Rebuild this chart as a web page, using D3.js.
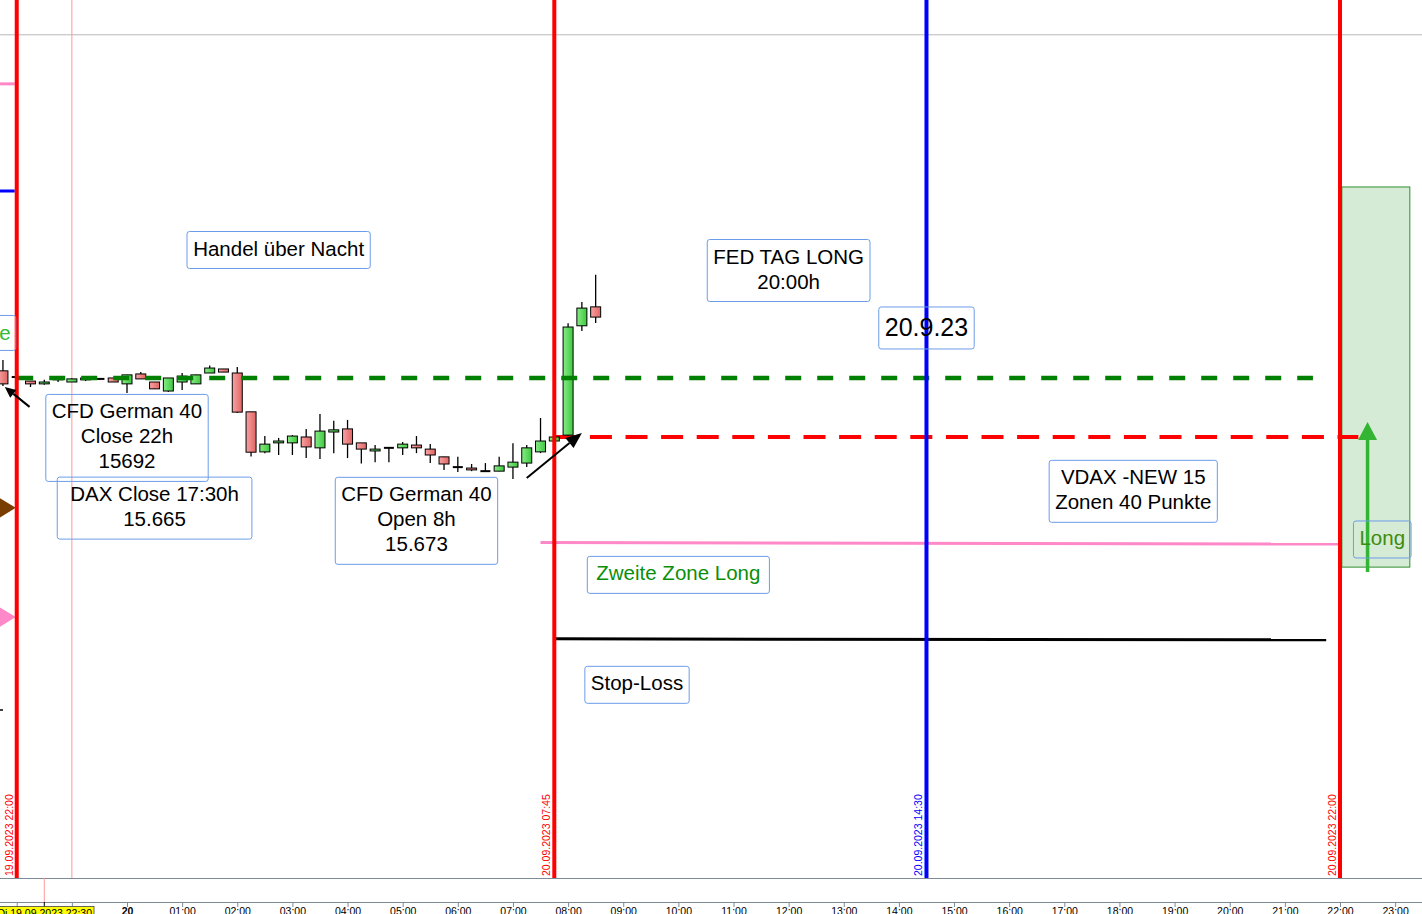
<!DOCTYPE html>
<html>
<head>
<meta charset="utf-8">
<script src="https://cdn.jsdelivr.net/npm/d3@7"></script>
<style>
  body { margin: 0; background: #fff; }
  svg { display: block; font-family: "Liberation Sans", Arial, sans-serif; }
</style>
</head>
<body>
<svg id="chart" width="1422" height="914"></svg>
<script>
// 15-minute candles, CFD German 40
var candleTimes = [
  "2023-09-19 21:45", "2023-09-19 22:00", "2023-09-19 22:15", "2023-09-19 22:30",
  "2023-09-19 22:45", "2023-09-19 23:00", "2023-09-19 23:15", "2023-09-19 23:30",
  "2023-09-19 23:45", "2023-09-20 00:00", "2023-09-20 00:15", "2023-09-20 00:30",
  "2023-09-20 00:45", "2023-09-20 01:00", "2023-09-20 01:15", "2023-09-20 01:30",
  "2023-09-20 01:45", "2023-09-20 02:00", "2023-09-20 02:15", "2023-09-20 02:30",
  "2023-09-20 02:45", "2023-09-20 03:00", "2023-09-20 03:15", "2023-09-20 03:30",
  "2023-09-20 03:45", "2023-09-20 04:00", "2023-09-20 04:15", "2023-09-20 04:30",
  "2023-09-20 04:45", "2023-09-20 05:00", "2023-09-20 05:15", "2023-09-20 05:30",
  "2023-09-20 05:45", "2023-09-20 06:00", "2023-09-20 06:15", "2023-09-20 06:30",
  "2023-09-20 06:45", "2023-09-20 07:00", "2023-09-20 07:15", "2023-09-20 07:30",
  "2023-09-20 07:45", "2023-09-20 08:00", "2023-09-20 08:15", "2023-09-20 08:30"
];
var opens = [15694.3, 15692.3, 15691.0, 15690.1, 15691.4, 15690.7, 15691.4, 15691.7, 15692.0, 15690.1, 15693.3, 15690.7,
  15687.8, 15690.7, 15690.1, 15693.6, 15694.9, 15693.6, 15681.1, 15668.2, 15671.1, 15671.1, 15673.0, 15669.5,
  15674.6, 15675.6, 15671.1, 15668.5, 15669.5, 15669.5, 15670.4, 15669.1, 15666.6, 15663.3, 15663.0, 15662.0,
  15662.0, 15663.3, 15664.6, 15668.2, 15671.7, 15673.6, 15708.8, 15714.9];
var highs = [15697.8, 15692.6, 15691.0, 15691.4, 15692.3, 15691.9, 15692.3, 15692.0, 15692.0, 15693.0, 15693.9, 15690.7,
  15692.0, 15693.6, 15693.0, 15696.0, 15694.9, 15695.5, 15681.1, 15673.3, 15672.7, 15673.6, 15675.6, 15680.4,
  15678.2, 15678.5, 15671.1, 15670.4, 15669.5, 15671.4, 15673.3, 15670.7, 15666.6, 15666.6, 15664.3, 15664.6,
  15666.6, 15671.0, 15670.4, 15679.1, 15673.3, 15709.6, 15716.5, 15725.2];
var lows = [15689.4, 15691.7, 15689.1, 15689.8, 15690.7, 15690.7, 15691.0, 15691.4, 15690.7, 15687.2, 15691.7, 15688.5,
  15687.5, 15688.1, 15690.1, 15693.6, 15693.9, 15680.7, 15666.7, 15667.8, 15667.2, 15667.2, 15666.2, 15665.9,
  15667.8, 15666.2, 15664.5, 15664.9, 15664.9, 15667.2, 15667.8, 15664.6, 15662.4, 15661.7, 15662.0, 15662.0,
  15662.0, 15659.5, 15663.3, 15667.8, 15671.4, 15673.3, 15707.1, 15709.7];
var closes = [15690.1, 15692.3, 15690.1, 15690.7, 15691.9, 15691.7, 15692.0, 15691.7, 15690.7, 15693.0, 15691.7, 15688.5,
  15692.0, 15692.6, 15693.0, 15695.2, 15693.9, 15681.0, 15668.1, 15670.7, 15671.7, 15673.3, 15669.8, 15674.9,
  15675.3, 15670.7, 15669.1, 15669.1, 15669.5, 15670.7, 15669.5, 15667.2, 15664.3, 15663.3, 15662.4, 15662.0,
  15663.7, 15664.9, 15669.5, 15671.7, 15673.0, 15708.4, 15714.5, 15711.6];

// horizontal levels
var closeLevel = 15692;   // CFD close 22h
var openLevel = 15673;    // CFD open 8h
var zoneLevel = 15639;    // second long zone
var stopLevel = 15608;    // stop loss
var gridLevel = 15802.5;
var leftPink = 15786.7, leftBlue = 15752.2, leftBrown = 15650.2, leftPinkTri = 15615.0, leftDash = 15585.1;
var longBox = [15753.5, 15631.1];
var longArrow = [15629.5, 15677.8];

// vertical time lines
var vlineTimes = ["2023-09-19 22:00", "2023-09-20 07:45", "2023-09-20 14:30", "2023-09-20 22:00"];
var vlineKinds = ["red", "red", "blue", "red"];

var notes = [
  {t: "2023-09-20 02:45", p: 15733.2, lines: ["Handel über Nacht"]},
  {t: "2023-09-20 12:00", p: 15726.6, lines: ["FED TAG LONG", "20:00h"]},
  {t: "2023-09-20 14:30", p: 15708.1, lines: ["20.9.23"], kind: "big"},
  {t: "2023-09-20 00:00", p: 15672.7, lines: ["CFD German 40", "Close 22h", "15692"]},
  {t: "2023-09-20 00:30", p: 15650.1, lines: ["DAX Close 17:30h", "15.665"], kind: "wide"},
  {t: "2023-09-20 05:15", p: 15646.0, lines: ["CFD German 40", "Open 8h", "15.673"]},
  {t: "2023-09-20 18:15", p: 15655.5, lines: ["VDAX -NEW 15", "Zonen 40 Punkte"]},
  {t: "2023-09-20 10:00", p: 15628.6, lines: ["Zweite Zone Long"], kind: "zone"},
  {t: "2023-09-20 09:15", p: 15593.2, lines: ["Stop-Loss"]},
  {t: "2023-09-20 22:46", p: 15640.0, lines: ["Long"], kind: "long"}
];

var parse = d3.timeParse("%Y-%m-%d %H:%M");
var svg = d3.select("#chart");
var W = 1422, plotH = 878;

var x = d3.scaleTime()
  .domain([parse("2023-09-20 00:00"), parse("2023-09-20 22:00")])
  .range([127, 1340]);
var y = d3.scaleLinear().domain([15531, 15813.7]).range([plotH, 0]);

var defs = svg.append("defs");
function grad(id, c1, c2) {
  var g = defs.append("linearGradient").attr("id", id);
  g.append("stop").attr("offset", "0%").attr("stop-color", c1);
  g.append("stop").attr("offset", "100%").attr("stop-color", c2);
}
grad("gUp", "#86ec86", "#3fc83f");
grad("gDn", "#f7a3a3", "#e36464");

var plot = svg.append("g");

// grid line at top
plot.append("line")
  .attr("x1", 0).attr("x2", W)
  .attr("y1", y(gridLevel)).attr("y2", y(gridLevel))
  .attr("stroke", "#b8b8b8").attr("stroke-width", 1);

// thin pink separator
plot.append("line")
  .attr("x1", x(parse("2023-09-19 23:00"))).attr("x2", x(parse("2023-09-19 23:00")))
  .attr("y1", 0).attr("y2", plotH)
  .attr("stroke", "#ff9a9a").attr("stroke-width", 1);

// long zone box
var t2202 = parse("2023-09-20 22:02"), t2316 = parse("2023-09-20 23:16");
plot.append("rect")
  .attr("x", x(t2202)).attr("y", y(longBox[0]))
  .attr("width", x(t2316) - x(t2202)).attr("height", y(longBox[1]) - y(longBox[0]))
  .attr("fill", "#d5ebd5").attr("stroke", "#2f8f2f").attr("stroke-width", 1);

// left edge bits
var t22 = parse("2023-09-19 22:00");
plot.append("line").attr("x1", 0).attr("x2", x(t22) - 2)
  .attr("y1", y(leftPink)).attr("y2", y(leftPink))
  .attr("stroke", "#ff88c8").attr("stroke-width", 3);
plot.append("line").attr("x1", 0).attr("x2", x(t22) - 2)
  .attr("y1", y(leftBlue)).attr("y2", y(leftBlue))
  .attr("stroke", "#0000ff").attr("stroke-width", 3);
function tri(p, color) {
  var tx = x(t22) - 1, ty = y(p);
  plot.append("path")
    .attr("d", "M" + tx + "," + ty + "L" + (tx - 18) + "," + (ty - 11) + "L" + (tx - 18) + "," + (ty + 11) + "Z")
    .attr("fill", color);
}
tri(leftBrown, "#7a3d00");
tri(leftPinkTri, "#ff88c8");
plot.append("line").attr("x1", 0).attr("x2", 3)
  .attr("y1", y(leftDash)).attr("y2", y(leftDash))
  .attr("stroke", "#000").attr("stroke-width", 1.5);

// horizontal levels
plot.append("line")
  .attr("x1", x(parse("2023-09-20 07:30"))).attr("x2", x(parse("2023-09-20 22:00")))
  .attr("y1", y(zoneLevel)).attr("y2", y(zoneLevel) + 1.5)
  .attr("stroke", "#ff88c8").attr("stroke-width", 3);
plot.append("line")
  .attr("x1", x(parse("2023-09-20 07:45"))).attr("x2", x(parse("2023-09-20 21:45")))
  .attr("y1", y(stopLevel)).attr("y2", y(stopLevel) + 1)
  .attr("stroke", "#000").attr("stroke-width", 3);
plot.append("line")
  .attr("x1", x(parse("2023-09-20 07:45"))).attr("x2", x(parse("2023-09-20 22:20")))
  .attr("y1", y(openLevel)).attr("y2", y(openLevel))
  .attr("stroke", "#ff0000").attr("stroke-width", 4).attr("stroke-dasharray", "22,13.6");

// candles
var candles = candleTimes.map(function(t, i) {
  return {t: parse(t), o: opens[i], h: highs[i], l: lows[i], c: closes[i]};
});
var cg = plot.append("g").selectAll("g").data(candles).enter().append("g");
cg.append("line")
  .attr("x1", d => x(d.t)).attr("x2", d => x(d.t))
  .attr("y1", d => y(d.h)).attr("y2", d => y(d.l))
  .attr("stroke", "#000").attr("stroke-width", 1.3);
cg.filter(d => Math.abs(d.o - d.c) >= 0.2).append("rect")
  .attr("x", d => x(d.t) - 5).attr("width", 10)
  .attr("y", d => y(Math.max(d.o, d.c)))
  .attr("height", d => Math.max(1, Math.abs(y(d.o) - y(d.c))))
  .attr("fill", d => d.c > d.o ? "url(#gUp)" : "url(#gDn)")
  .attr("stroke", "#000").attr("stroke-width", 1);
cg.filter(d => Math.abs(d.o - d.c) < 0.2).append("line")
  .attr("x1", d => x(d.t) - 5).attr("x2", d => x(d.t) + 5)
  .attr("y1", d => y(d.o)).attr("y2", d => y(d.o))
  .attr("stroke", "#000").attr("stroke-width", 2);

// green dashed close level (drawn over candles)
plot.append("line")
  .attr("x1", x(t22) + 0.5).attr("x2", x(parse("2023-09-20 21:30")) + 0.5)
  .attr("y1", y(closeLevel)).attr("y2", y(closeLevel))
  .attr("stroke", "#008000").attr("stroke-width", 4.5).attr("stroke-dasharray", "16,16");

// vertical lines + rotated labels
var fmtV = d3.timeFormat("%d.%m.%Y %H:%M");
vlineTimes.forEach(function(t, i) {
  var xt = x(parse(t));
  var col = vlineKinds[i] === "blue" ? "#0000ff" : "#ff0000";
  plot.append("line").attr("x1", xt).attr("x2", xt).attr("y1", 0).attr("y2", plotH)
    .attr("stroke", col).attr("stroke-width", 4);
  plot.append("text")
    .attr("transform", "translate(" + (xt - 4) + "," + (plotH - 2) + ") rotate(-90)")
    .attr("font-size", 10.5).attr("fill", col)
    .text(fmtV(parse(t)));
});

// arrows
function arrow(t1, p1, t2, p2, color, width, hl, hw) {
  var x1 = x(parse(t1)), y1 = y(p1), x2 = x(parse(t2)), y2 = y(p2);
  var a = Math.atan2(y2 - y1, x2 - x1);
  var bx = x2 - hl * Math.cos(a), by = y2 - hl * Math.sin(a);
  plot.append("line").attr("x1", x1).attr("y1", y1).attr("x2", bx).attr("y2", by)
    .attr("stroke", color).attr("stroke-width", width);
  var px = -Math.sin(a) * hw / 2, py = Math.cos(a) * hw / 2;
  plot.append("path")
    .attr("d", "M" + x2 + "," + y2 + "L" + (bx + px) + "," + (by + py) + "L" + (bx - px) + "," + (by - py) + "Z")
    .attr("fill", color);
}
arrow("2023-09-19 22:14", 15682.7, "2023-09-19 21:47", 15689.1, "#000", 2, 11, 10);
arrow("2023-09-20 07:15", 15659.8, "2023-09-20 08:15", 15674.3, "#000", 2, 16, 13);
arrow("2023-09-20 22:30", longArrow[0], "2023-09-20 22:30", longArrow[1], "#33b533", 3.5, 18, 19);

// text boxes
function noteBox(n) {
  var big = n.kind === "big";
  var fs = big ? 25 : 20.5, lh = big ? 30 : 25, off = big ? 8.5 : 5.5;
  var color = n.kind === "zone" ? "#0a8f0a" : n.kind === "long" ? "#3d8c0e" : "#000";
  var cx = x(parse(n.t)), cy = y(n.p);
  var g = plot.append("g");
  var rect = g.append("rect");
  var txt = g.append("text").attr("font-size", fs).attr("fill", color).attr("text-anchor", "middle");
  var k = n.lines.length;
  n.lines.forEach(function(s, i) {
    txt.append("tspan").attr("x", cx).attr("y", cy + (i - (k - 1) / 2) * lh + off).text(s);
  });
  var pad = n.kind === "wide" ? 26 : (n.kind === "zone" ? 18 : 12);
  var w = txt.node().getBBox().width + pad;
  var h = k * lh + 12;
  rect.attr("x", cx - w / 2).attr("y", cy - h / 2).attr("width", w).attr("height", h)
    .attr("rx", 2.5).attr("fill", "none").attr("stroke", "#6d9ce8").attr("stroke-width", 1);
}
notes.forEach(noteBox);

// clipped box at left edge
var eg = plot.append("g");
eg.append("text").attr("font-size", 20.5).attr("fill", "#33bb33").attr("text-anchor", "end")
  .attr("x", x(t22) - 6).attr("y", y(15706.5) + 7).text("Erste Zone");
eg.append("rect").attr("x", -80).attr("y", y(15706.5) - 17.5).attr("width", x(t22) - 1 + 80).attr("height", 35)
  .attr("rx", 2.5).attr("fill", "none").attr("stroke", "#6d9ce8");

// time axis
var axisG = svg.append("g");
axisG.append("rect").attr("x", 0).attr("y", plotH).attr("width", W).attr("height", 914 - plotH).attr("fill", "#fff");
axisG.append("line").attr("x1", 0).attr("x2", W).attr("y1", plotH + 0.5).attr("y2", plotH + 0.5)
  .attr("stroke", "#7d8b98");
var t2230 = parse("2023-09-19 22:30");
axisG.append("line").attr("x1", x(t2230)).attr("x2", x(t2230)).attr("y1", plotH).attr("y2", 902)
  .attr("stroke", "#ff9a9a");

var dayStart = parse("2023-09-20 00:00");
var hourTicks = d3.timeHour.range(x.invert(0), x.invert(W));
var fmtH = d3.timeFormat("%H:%M");
var ax = axisG.append("g").attr("transform", "translate(0,902)")
  .call(d3.axisBottom(x).tickValues(hourTicks).tickSize(5).tickPadding(1)
    .tickFormat(d => d < dayStart ? "" : d.getHours() === 0 ? d3.timeFormat("%d")(d) : fmtH(d)));
ax.select(".domain").remove();
ax.selectAll(".tick line").attr("stroke", "#7d8b98");
ax.selectAll(".tick text").attr("font-size", 10.5).attr("fill", "#000")
  .attr("font-family", "Liberation Sans, Arial, sans-serif")
  .attr("font-weight", d => d.getHours() === 0 ? "bold" : "normal");
axisG.append("line").attr("x1", 0).attr("x2", W).attr("y1", 902.5).attr("y2", 902.5).attr("stroke", "#7d8b98");
axisG.append("line").attr("x1", x(t2230)).attr("x2", x(t2230)).attr("y1", 902).attr("y2", 907)
  .attr("stroke", "#000");

// crosshair time label
axisG.append("rect").attr("x", -10).attr("y", 906.5).attr("width", 104).attr("height", 14)
  .attr("fill", "#ffff00").attr("stroke", "#444").attr("stroke-width", 0.8);
axisG.append("text").attr("x", 92).attr("y", 917).attr("text-anchor", "end")
  .attr("font-size", 10.5).attr("fill", "#000")
  .text("Di " + d3.timeFormat("%d.%m.%Y %H:%M")(t2230));
</script>
</body>
</html>
